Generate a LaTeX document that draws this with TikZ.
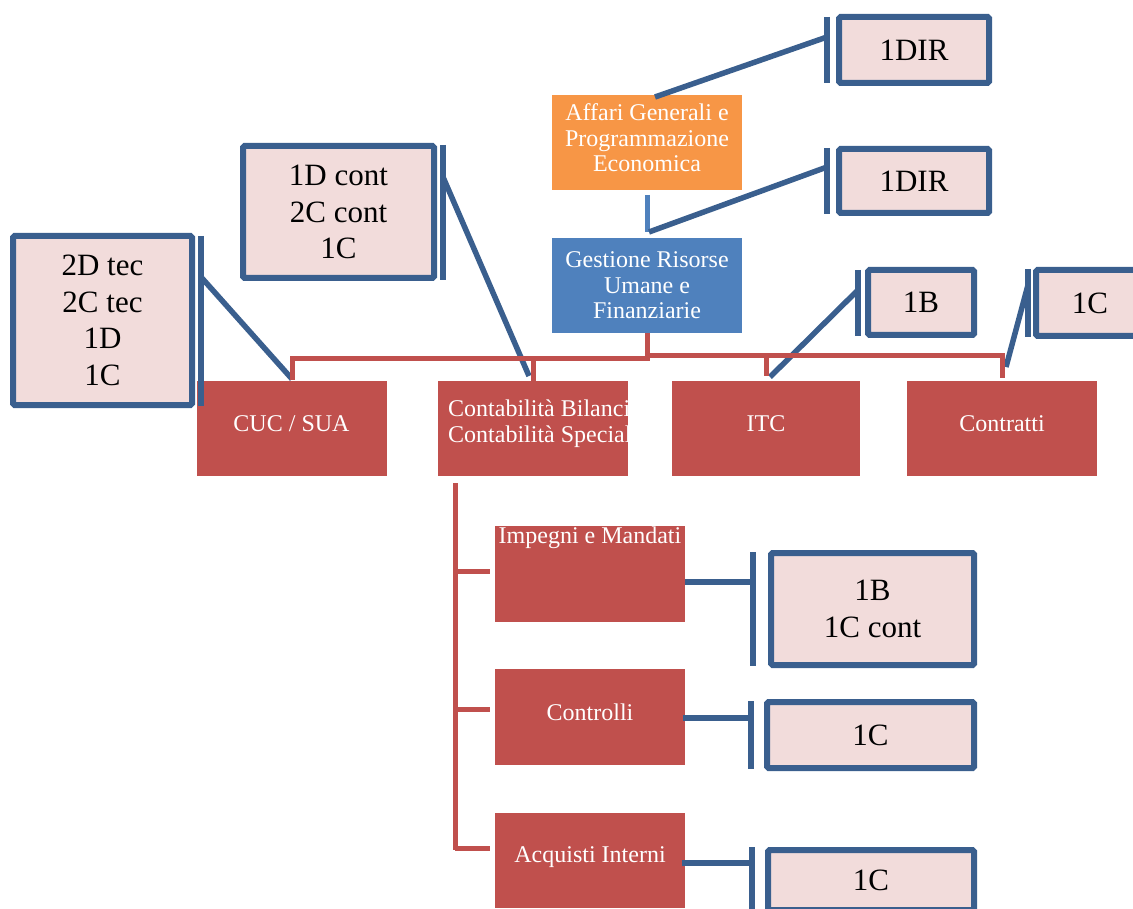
\documentclass[tikz,border=0pt]{standalone}
\usepackage{fontspec}
\setmainfont{Liberation Serif}
\definecolor{myred}{HTML}{C0504D}
\definecolor{mypink}{HTML}{F2DCDB}
\definecolor{dkblue}{HTML}{3A5F8E}
\definecolor{myorange}{HTML}{F79646}
\definecolor{lblue}{HTML}{4F81BD}
\tikzset{
  unitbox/.style={inner sep=0pt, outer sep=0pt, minimum width=190pt, minimum height=95pt},
  redbox/.style={unitbox, fill=myred},
  wtext/.style={text=white, font=\fontsize{24}{25.5}\selectfont, align=center, inner sep=0pt},
  topbox/.style={unitbox, text=white, font=\fontsize{24}{25.5}\selectfont, align=center},
  callout/.style={draw=dkblue, line width=6pt, fill=mypink, inner sep=0pt, outer sep=0pt, rounded corners=1.5pt,
    font=\fontsize{31}{36.7}\selectfont, align=center},
  bar/.style={draw=dkblue, line width=5.5pt},
  bconn/.style={draw=dkblue, line width=5.5pt},
  rconn/.style={draw=myred, line width=5pt},
}
\begin{document}
\begin{tikzpicture}[x=1pt,y=-1pt]
\useasboundingbox (0,0) rectangle (1133,909);
\clip (0,0) rectangle (1133,909);

% top boxes
\node[unitbox, fill=myorange] (agpe) at (647,142.5) {};
\node[wtext] (agpet) at (647,138) {Affari Generali e\\Programmazione\\Economica};
\node[topbox, fill=lblue] (grum) at (647,285.5) {Gestione Risorse\\Umane e\\Finanziarie};

% second level red boxes
\node[redbox] (cuc) at (291.5,428.5) {};
\node[wtext] (cuct) at (291.5,424) {CUC / SUA};
\node[redbox] (cont) at (533,428.5) {};
\begin{scope}
\clip (cont.north west) rectangle (cont.south east);
\node[wtext, align=left, anchor=west] (contt) at (448,423.5) {Contabilità Bilancio\\Contabilità Speciale};
\end{scope}
\node[redbox, minimum width=188pt] (itc) at (766,428.5) {};
\node[wtext] (itct) at (766,424) {ITC};
\node[redbox] (contr) at (1002,428.5) {};
\node[wtext] (contrt) at (1002,424) {Contratti};

% third level
\node[redbox, minimum height=96pt] (imp) at (590,574) {};
\node[wtext] (impt) at (590,538) {Impegni e Mandati};
\node[redbox, minimum height=96pt] (ctrl) at (590,717) {};
\node[wtext] (ctrlt) at (590,712) {Controlli};
\node[redbox] (acq) at (590,860.5) {};
\node[wtext] (acqt) at (590,857) {Acquisti Interni};

% callouts
\node[callout, minimum width=150pt, minimum height=66pt] (c1) at (914,50) {1DIR};
\node[callout, minimum width=150pt, minimum height=64pt] (c2) at (914,181) {1DIR};
\node[callout, minimum width=106pt, minimum height=65pt] (c3) at (921,302.5) {1B};
\node[callout, minimum width=108pt, minimum height=66pt] (c4) at (1090,303) {1C};
\node[callout, minimum width=179pt, minimum height=169pt] (c5) at (102.5,320.5) {2D tec\\2C tec\\1D\\1C};
\node[callout, minimum width=191pt, minimum height=132pt] (c6) at (338.5,212) {1D cont\\2C cont\\1C};
\node[callout, minimum width=203pt, minimum height=112pt] (c7) at (872.5,609) {1B\\1C cont};
\node[callout, minimum width=207pt, minimum height=66pt] (c8) at (870.5,735) {1C};
\node[callout, minimum width=206pt, minimum height=60pt] (c9) at (871,880) {1C};

% bars
\coordinate (b1t) at (827,17);   \coordinate (b1b) at (827,83);
\coordinate (b2t) at (827,148);  \coordinate (b2b) at (827,214);
\coordinate (b3t) at (858,270);  \coordinate (b3b) at (858,336);
\coordinate (b4t) at (1028,269); \coordinate (b4b) at (1028,337);
\coordinate (b5t) at (201,236);  \coordinate (b5b) at (201,406);
\coordinate (b6t) at (443,145);  \coordinate (b6b) at (443,280);
\coordinate (b7t) at (753,552);  \coordinate (b7b) at (753,666);
\coordinate (b8t) at (751,701);  \coordinate (b8b) at (751,769);
\coordinate (b9t) at (752,847);  \coordinate (b9b) at (752,912);
\foreach \i in {1,...,9} { \draw[bar] (b\i t) -- (b\i b); }

% blue connectors
\coordinate (p1a) at (655,97);   \coordinate (p1b) at (827,37);
\draw[bconn] (p1a) -- (p1b);
\coordinate (p2a) at (647,195);  \coordinate (p2m) at (647,232); \coordinate (p2n) at (649,232); \coordinate (p2b) at (827,167);
\draw[draw=lblue, line width=5pt] (p2a) -- (p2m);
\draw[bconn] (p2n) -- (p2b);
\coordinate (p3a) at (858,290);  \coordinate (p3b) at (770,377);
\draw[bconn] (p3a) -- (p3b);
\coordinate (p4a) at (1028,285); \coordinate (p4b) at (1006,367);
\draw[bconn] (p4a) -- (p4b);
\coordinate (p5a) at (201,277);  \coordinate (p5b) at (292,379);
\draw[bconn] (p5a) -- (p5b);
\coordinate (p6a) at (443,177);  \coordinate (p6b) at (529,376);
\draw[bconn] (p6a) -- (p6b);
\coordinate (p7a) at (685,582);  \coordinate (p7b) at (753,582);
\draw[bconn] (p7a) -- (p7b);
\coordinate (p8a) at (683,718);  \coordinate (p8b) at (751,718);
\draw[bconn] (p8a) -- (p8b);
\coordinate (p9a) at (682,863);  \coordinate (p9b) at (752,863);
\draw[bconn] (p9a) -- (p9b);

% red connectors
\coordinate (jl) at (647,359);
\coordinate (jr) at (647,356);
\coordinate (hl) at (292,359);  \coordinate (dl) at (292,380);
\coordinate (hr) at (1002,356); \coordinate (dr) at (1002,378);
\coordinate (k1) at (533,359);  \coordinate (k1b) at (533,381);
\coordinate (k2) at (766,356);  \coordinate (k2b) at (766,376);
\draw[rconn] (grum.south) -- (jl) -- (hl) -- (dl);
\draw[rconn] (jr) -- (hr) -- (dr);
\draw[rconn] (k1) -- (k1b);
\draw[rconn] (k2) -- (k2b);
\coordinate (vt) at (455,483);
\coordinate (vb) at (455,850);
\draw[rconn] (vt) -- (vb);
\coordinate (s1) at (455,571); \coordinate (s1b) at (490,571);
\coordinate (s2) at (455,709); \coordinate (s2b) at (490,709);
\coordinate (s3) at (455,848); \coordinate (s3b) at (490,848);
\draw[rconn] (s1) -- (s1b);
\draw[rconn] (s2) -- (s2b);
\draw[rconn] (s3) -- (s3b);
\end{tikzpicture}
\end{document}
